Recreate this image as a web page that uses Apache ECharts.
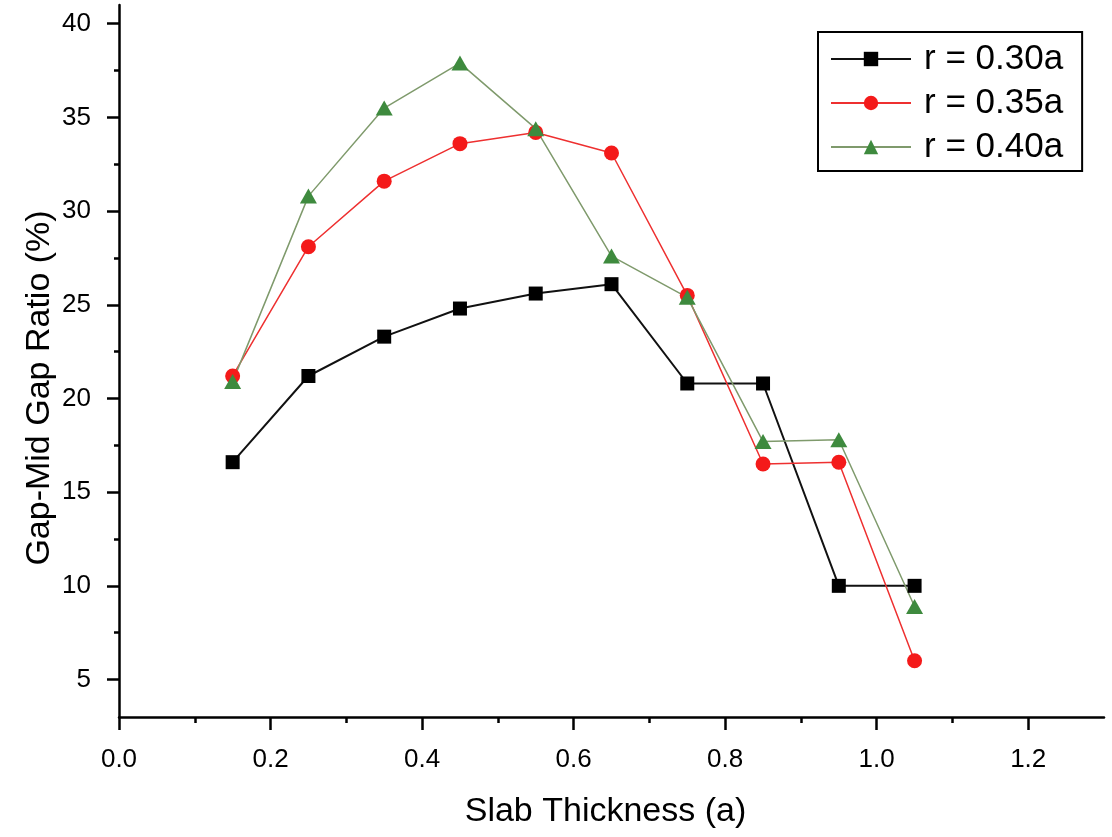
<!DOCTYPE html>
<html>
<head>
<meta charset="utf-8">
<title>Gap-Mid Gap Ratio vs Slab Thickness</title>
<script src="https://cdn.jsdelivr.net/npm/echarts@6/dist/echarts.min.js"></script>
<style>
    html, body {margin: 0; padding: 0; background: #fff;}
    #chart {width: 1112px; height: 837px;}
</style>
</head>
<body>
<div id="chart"></div>
<script>
// slab thickness (in units of a)
var thickness = [0.15, 0.25, 0.35, 0.45, 0.55, 0.65, 0.75, 0.85, 0.95, 1.05];
// gap-mid gap ratio (%) for each hole radius
var r030 = [16.6, 21.2, 23.3, 24.8, 25.6, 26.1, 20.8, 20.8, 10.0, 10.0];
var r035 = [21.2, 28.1, 31.6, 33.6, 34.2, 33.1, 25.5, 16.5, 16.6, 6.0];
var r040 = [20.9, 30.8, 35.5, 37.9, 34.4, 27.6, 25.4, 17.7, 17.8, 8.9];

var xMajor = [0, 0.2, 0.4, 0.6, 0.8, 1.0, 1.2];
var xMinor = [0.1, 0.3, 0.5, 0.7, 0.9, 1.1];
var yMajor = [5, 10, 15, 20, 25, 30, 35, 40];
var yMinor = [7.5, 12.5, 17.5, 22.5, 27.5, 32.5, 37.5];

var FONT = '"Liberation Sans", Arial, sans-serif';

function pairs(ys) {
    return thickness.map(function (x, i) { return [x, ys[i]]; });
}

var chart = echarts.init(document.getElementById('chart'));

chart.setOption({
    animation: false,
    backgroundColor: '#fff',
    grid: {left: 119, right: 8, top: 5, bottom: 120},
    legend: {
        left: 818,
        top: 32,
        orient: 'vertical',
        backgroundColor: '#fff',
        borderColor: '#000',
        borderWidth: 2,
        borderRadius: 0,
        padding: [9, 19, 6, 12],
        itemWidth: 80,
        itemHeight: 18,
        itemGap: 8,
        textStyle: {fontFamily: FONT, fontSize: 35, color: '#000', padding: [0, 0, 0, 8], lineHeight: 36},
        data: ['r = 0.30a', 'r = 0.35a', 'r = 0.40a']
    },
    xAxis: [{
        type: 'value',
        min: 0,
        max: 1.3,
        name: 'Slab Thickness (a)',
        nameLocation: 'middle',
        nameGap: 78,
        nameTextStyle: {fontFamily: FONT, fontSize: 34, color: '#000', padding: [0, 12, 0, 0]},
        axisLine: {show: true, lineStyle: {color: '#000', width: 2.5}},
        axisTick: {show: true, customValues: xMajor, length: 13, lineStyle: {color: '#000', width: 2.5}},
        axisLabel: {
            customValues: xMajor,
            margin: 30,
            fontFamily: FONT,
            fontSize: 26,
            color: '#000',
            formatter: function (v) { return v.toFixed(1); }
        },
        splitLine: {show: false}
    }, {
        type: 'value',
        min: 0,
        max: 1.3,
        position: 'bottom',
        axisLine: {show: false},
        axisTick: {show: true, customValues: xMinor, length: 6, lineStyle: {color: '#000', width: 2.5}},
        axisLabel: {show: false},
        splitLine: {show: false}
    }],
    yAxis: [{
        type: 'value',
        min: 3,
        max: 41,
        axisLine: {show: true, lineStyle: {color: '#000', width: 2.5}},
        axisTick: {show: true, customValues: yMajor, length: 12, lineStyle: {color: '#000', width: 2.5}},
        axisLabel: {customValues: yMajor, margin: 28, fontFamily: FONT, fontSize: 26, color: '#000'},
        splitLine: {show: false}
    }, {
        type: 'value',
        min: 3,
        max: 41,
        position: 'left',
        axisLine: {show: false},
        axisTick: {show: true, customValues: yMinor, length: 5, lineStyle: {color: '#000', width: 2.5}},
        axisLabel: {show: false},
        splitLine: {show: false}
    }],
    graphic: [{
        type: 'text',
        x: 40,
        y: 388,
        rotation: Math.PI / 2,
        style: {
            text: 'Gap-Mid Gap Ratio (%)',
            fontFamily: FONT,
            fontSize: 34,
            fill: '#000',
            align: 'center',
            verticalAlign: 'middle'
        }
    }],
    series: [{
        name: 'r = 0.30a',
        type: 'line',
        data: pairs(r030),
        symbol: 'rect',
        symbolSize: 14,
        itemStyle: {color: '#000'},
        lineStyle: {color: '#111', width: 2}
    }, {
        name: 'r = 0.35a',
        type: 'line',
        data: pairs(r035),
        symbol: 'circle',
        symbolSize: 15,
        itemStyle: {color: '#f41a1a'},
        lineStyle: {color: '#ee3030', width: 1.5}
    }, {
        name: 'r = 0.40a',
        type: 'line',
        data: pairs(r040),
        symbol: 'triangle',
        symbolSize: [17, 15],
        itemStyle: {color: '#3e8a3e'},
        lineStyle: {color: '#7f9a6c', width: 1.5}
    }]
});
</script>
</body>
</html>
